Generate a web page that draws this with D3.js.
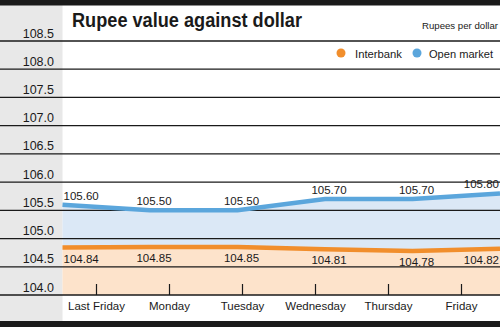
<!DOCTYPE html>
<html>
<head>
<meta charset="utf-8">
<script src="https://cdn.jsdelivr.net/npm/d3@7"></script>
<style>
  html, body { margin: 0; padding: 0; background: #fff; }
  svg { display: block; }
  text { font-family: "Liberation Sans", Arial, sans-serif; fill: #1a1a1a; }
</style>
</head>
<body>
<svg id="chart" width="500" height="327"></svg>
<script>
// Rupee rates for the week
const days = ["Last Friday", "Monday", "Tuesday", "Wednesday", "Thursday", "Friday"];
const interbank = [104.84, 104.85, 104.85, 104.81, 104.78, 104.82];
const openMarket = [105.60, 105.50, 105.50, 105.70, 105.70, 105.80];
const yTicks = [104.0, 104.5, 105.0, 105.5, 106.0, 106.5, 107.0, 107.5, 108.0, 108.5];
const seriesNames = ["Interbank", "Open market"];

const W = 500, H = 327;
const colors = { interbank: "#f18e2c", open: "#5ba6dc", interFill: "#fde3cb", openFill: "#dbe8f6" };

const svg = d3.select("#chart");

// scales
const y = d3.scaleLinear().domain([104.0, 108.5]).range([295, 41]);
const xPt = d3.scalePoint().domain(days).range([62.5, 500]);
const xBand = d3.scaleBand().domain(days).range([60, 498]);

// left gutter behind the axis labels
svg.append("rect").attr("x", 0).attr("y", 5).attr("width", 62.5).attr("height", 316).attr("fill", "#e8e8e8");

// fills
const rows = days.map((d, i) => ({ day: d, ib: interbank[i], om: openMarket[i] }));
svg.append("path").datum(rows)
  .attr("fill", colors.interFill)
  .attr("d", d3.area().x(d => xPt(d.day)).y0(y(104.0)).y1(d => y(d.ib)));
svg.append("path").datum(rows)
  .attr("fill", colors.openFill)
  .attr("d", d3.area().x(d => xPt(d.day)).y0(d => y(d.ib)).y1(d => y(d.om)));

// gridlines with labels
const yAxis = svg.append("g");
yTicks.forEach(t => {
  yAxis.append("line").attr("x1", 0).attr("x2", W).attr("y1", y(t)).attr("y2", y(t))
    .attr("stroke", "#1a1a1a").attr("stroke-width", 1.3);
  yAxis.append("text").attr("x", 54).attr("y", y(t) - 3.5).attr("text-anchor", "end")
    .attr("font-size", 12.5).text(t.toFixed(1));
});

// x axis ticks and labels
const xAxis = svg.append("g");
days.forEach(d => {
  const cx = xBand(d) + xBand.bandwidth() / 2;
  xAxis.append("line").attr("x1", cx).attr("x2", cx).attr("y1", 284).attr("y2", 295)
    .attr("stroke", "#1a1a1a").attr("stroke-width", 1.2);
  xAxis.append("text").attr("x", cx).attr("y", 310).attr("text-anchor", "middle")
    .attr("font-size", 11.5).text(d);
});

// lines
const lineIB = d3.line().x(d => xPt(d.day)).y(d => y(d.ib));
const lineOM = d3.line().x(d => xPt(d.day)).y(d => y(d.om));
svg.append("path").datum(rows).attr("fill", "none").attr("stroke", colors.open)
  .attr("stroke-width", 4.5).attr("d", lineOM);
svg.append("path").datum(rows).attr("fill", "none").attr("stroke", colors.interbank)
  .attr("stroke-width", 4.5).attr("d", lineIB);

// value labels
const anchorFor = i => i === 0 ? "start" : (i === days.length - 1 ? "end" : "middle");
const labelX = i => i === 0 ? xPt(days[i]) + 1 : (i === days.length - 1 ? xPt(days[i]) - 1 : xPt(days[i]) + 4);
rows.forEach((r, i) => {
  svg.append("text").attr("x", labelX(i)).attr("y", y(r.om) - 5)
    .attr("text-anchor", anchorFor(i)).attr("font-size", 11.5).text(r.om.toFixed(2));
  svg.append("text").attr("x", labelX(i)).attr("y", y(r.ib) + 15)
    .attr("text-anchor", anchorFor(i)).attr("font-size", 11.5).text(r.ib.toFixed(2));
});

// frame bars
svg.append("rect").attr("x", 0).attr("y", 0).attr("width", W).attr("height", 5.5).attr("fill", "#1a1a1a");
svg.append("rect").attr("x", 0).attr("y", 321).attr("width", W).attr("height", 6).attr("fill", "#1a1a1a");

// title and unit
svg.append("text").attr("x", 72).attr("y", 27).attr("font-family", "Roboto, sans-serif")
  .attr("font-weight", 700).attr("font-size", 19.5).attr("textLength", 230)
  .attr("lengthAdjust", "spacingAndGlyphs").text("Rupee value against dollar");
svg.append("text").attr("x", 498).attr("y", 29).attr("text-anchor", "end")
  .attr("font-size", 9).attr("textLength", 76).attr("lengthAdjust", "spacingAndGlyphs")
  .text("Rupees per dollar");

// legend
const legend = svg.append("g");
const legendItems = [
  { name: seriesNames[0], color: colors.interbank, cx: 341, tx: 355, len: 47 },
  { name: seriesNames[1], color: colors.open, cx: 417, tx: 429, len: 64 }
];
legendItems.forEach(it => {
  legend.append("circle").attr("cx", it.cx).attr("cy", 53).attr("r", 4.5).attr("fill", it.color);
  legend.append("text").attr("x", it.tx).attr("y", 57.5).attr("font-size", 11.5)
    .attr("textLength", it.len).attr("lengthAdjust", "spacingAndGlyphs").text(it.name);
});
</script>
</body>
</html>
